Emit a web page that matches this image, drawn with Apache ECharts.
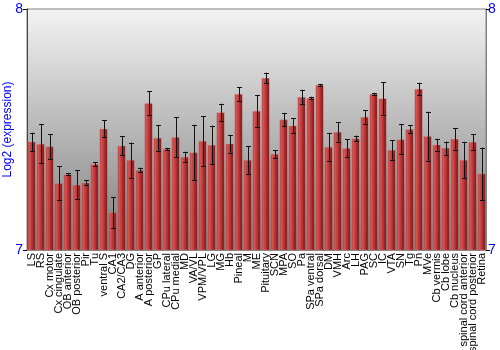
<!DOCTYPE html>
<html>
<head>
<meta charset="utf-8">
<script src="https://cdn.jsdelivr.net/npm/echarts@6/dist/echarts.min.js"></script>
<style>html,body{margin:0;padding:0;background:#fff}#c{width:500px;height:350px}</style>
</head>
<body>
<div id="c"></div>
<script>
var categories = ["LS","RS","Cx motor","Cx cingulate","OB anterior","OB posterior","Pir","Tu","ventral S","CA1","CA2/CA3","DG","A anterior","A posterior","GP","CPu lateral","CPu medial","MD","VA/VL","VPM/VPL","LG","MG","Hb","Pineal","M","ME","Pituitary","SCN","MPA","SO","Pa","SPa ventral","SPa dorsal","DM","VMH","Arc","LH","PAG","SC","IC","VTA","SN","Tg","Pn","MVe","Cb vermis","Cb lobe","Cb nucleus","spinal cord anterior","spinal cord posterior","Retina"];
var values = [7.449,7.440,7.429,7.277,7.314,7.270,7.279,7.356,7.503,7.156,7.433,7.373,7.332,7.609,7.465,7.419,7.468,7.386,7.405,7.452,7.436,7.571,7.441,7.647,7.373,7.577,7.714,7.398,7.541,7.516,7.635,7.631,7.685,7.427,7.490,7.422,7.463,7.552,7.647,7.629,7.415,7.459,7.501,7.668,7.472,7.437,7.423,7.461,7.373,7.448,7.317];
var errors = [0.038,0.081,0.051,0.071,0.004,0.060,0.010,0.008,0.036,0.064,0.040,0.073,0.010,0.049,0.053,0.005,0.083,0.022,0.115,0.103,0.080,0.036,0.037,0.028,0.057,0.066,0.022,0.017,0.028,0.030,0.030,0.005,0.004,0.059,0.040,0.037,0.012,0.028,0.005,0.067,0.040,0.062,0.017,0.026,0.102,0.025,0.027,0.044,0.076,0.033,0.108];
var yTicks = [7, 8];

var errData = values.map(function(v, i){ return [i, v - errors[i], v + errors[i]]; });
var chart = echarts.init(document.getElementById('c'));
var blue = '#0000ff';
chart.setOption({
  animation: false,
  grid: {left: 27, right: 14, top: 9, bottom: 100, show: true, borderColor: '#808080', borderWidth: 1,
    outerBoundsMode: 'none', containLabel: false,
    backgroundColor: new echarts.graphic.LinearGradient(0,0,0,1,[{offset:0,color:'#f3f3f3'},{offset:1,color:'#7c7c7c'}])},
  xAxis: {type: 'category', data: categories,
    axisLine: {show: true, lineStyle: {color: '#808080'}}, axisTick: {show: false},
    axisLabel: {rotate: 90, interval: 0, margin: 3, color: '#000', fontFamily: 'Liberation Sans', fontSize: 11}},
  yAxis: [
    {type: 'value', min: yTicks[0], max: yTicks[1], interval: 1, position: 'left',
     name: 'Log2 (expression)', nameLocation: 'middle', nameGap: 13, nameMoveOverlap: false,
     nameTextStyle: {color: blue, fontFamily: 'Liberation Sans', fontSize: 12},
     axisLine: {show: true, lineStyle: {color: '#444'}}, axisTick: {show: true, length: 4, lineStyle: {color: '#000'}},
     splitLine: {show: false},
     axisLabel: {color: blue, fontFamily: 'Liberation Sans', fontSize: 14, margin: 4}},
    {type: 'value', min: yTicks[0], max: yTicks[1], interval: 1, position: 'right',
     axisLine: {show: true, lineStyle: {color: '#808080'}}, axisTick: {show: true, length: 4, lineStyle: {color: '#000'}},
     splitLine: {show: false},
     axisLabel: {color: blue, fontFamily: 'Liberation Sans', fontSize: 14, margin: 2}}
  ],
  series: [
    {type: 'bar', data: values, barWidth: '88%',
     itemStyle: {
       color: new echarts.graphic.LinearGradient(0,0,1,0,[
         {offset:0,color:'#a83232'},{offset:0.2,color:'#d65656'},{offset:0.55,color:'#bb3535'},{offset:1,color:'#6e1212'}]),
       borderColor: 'rgba(230,150,150,0.5)', borderWidth: 0.5
     }},
    {type: 'custom', data: errData, z: 10,
     renderItem: function(params, api){
       var x = api.value(0);
       var lo = api.coord([x, api.value(1)]);
       var hi = api.coord([x, api.value(2)]);
       var cx = Math.round(lo[0]) + 0.5;
       var hw = 2.5;
       var st = {stroke: '#111', lineWidth: 1};
       return {type: 'group', children: [
         {type: 'line', shape: {x1: cx, y1: hi[1], x2: cx, y2: lo[1]}, style: st},
         {type: 'line', shape: {x1: cx - hw, y1: Math.round(hi[1])+0.5, x2: cx + hw, y2: Math.round(hi[1])+0.5}, style: st},
         {type: 'line', shape: {x1: cx - hw, y1: Math.round(lo[1])+0.5, x2: cx + hw, y2: Math.round(lo[1])+0.5}, style: st}
       ]};
     }}
  ]
});
</script>
</body>
</html>
